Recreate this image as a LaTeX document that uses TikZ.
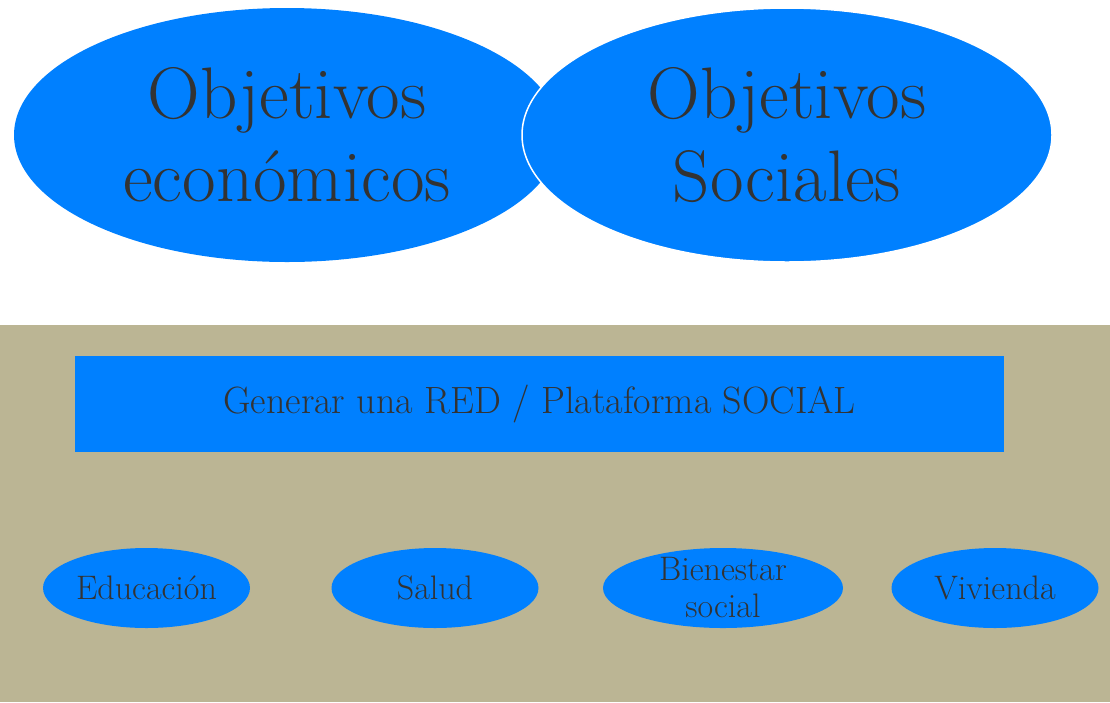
\documentclass[tikz,border=0pt]{standalone}
\usetikzlibrary{shapes.geometric}
\definecolor{bblue}{HTML}{0080FF}
\definecolor{tan}{HTML}{BBB594}
\definecolor{txt}{HTML}{333333}
\begin{document}
\begin{tikzpicture}[x=1pt,y=-1pt,
  bigell/.style={ellipse,fill=bblue,text=txt,align=center,inner sep=0pt,
     font=\fontsize{73}{83}\selectfont},
  smallell/.style={ellipse,fill=bblue,text=txt,align=center,inner sep=0pt,
     minimum width=207pt,minimum height=80pt,font=\fontsize{34}{37}\selectfont},
  bar/.style={fill=bblue,text=txt,inner sep=0pt,minimum width=929pt,minimum height=96pt,
     font=\fontsize{38}{40}\selectfont}]
\useasboundingbox (0,0) rectangle (1110,702);
\fill[white] (0,0) rectangle (1110,702);
\fill[tan] (0,325) rectangle (1110,702);
\node[bigell,minimum width=546pt,minimum height=254pt] (eco) at (287,135) {Objetivos\\econ\'omicos};
\node[bigell,minimum width=530pt,minimum height=254pt,draw=white,line width=1.5pt] (soc) at (787,135) {Objetivos\\Sociales};
\node[bar] (red) at (539.5,404) {Generar una RED / Plataforma SOCIAL};
\node[smallell] (edu) at (146.5,588) {Educaci\'on};
\node[smallell] (sal) at (435,588) {Salud};
\node[smallell,minimum width=240pt,inner ysep=-8pt] (bie) at (723,588) {Bienestar\\social};
\node[smallell] (viv) at (995,588) {Vivienda};
\end{tikzpicture}
\end{document}
